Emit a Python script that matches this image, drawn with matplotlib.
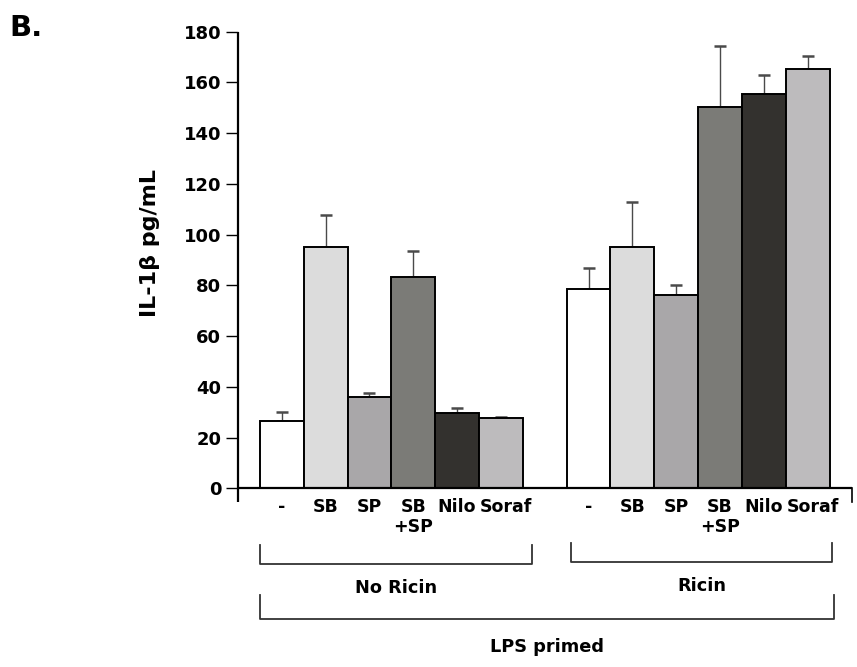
import numpy as np
import matplotlib
matplotlib.use('Agg')
from matplotlib import pyplot as plt
from matplotlib.transforms import blended_transform_factory, ScaledTranslation

plt.rcParams['font.family'] = ['DejaVu Sans']
plt.rcParams['font.weight'] = 'bold'

# data
treatments = ['-', 'SB', 'SP', 'SB\n+SP', 'Nilo', 'Soraf']
groups = ['No Ricin', 'Ricin']
no_ricin_mean = [26.6, 95.0, 36.0, 83.4, 29.8, 27.7]
no_ricin_err = [3.3, 12.6, 1.4, 10.3, 1.8, 0.5]
ricin_mean = [78.4, 95.1, 76.1, 150.2, 155.3, 165.2]
ricin_err = [8.6, 17.6, 3.9, 24.1, 7.5, 5.1]
yticks = [0, 20, 40, 60, 80, 100, 120, 140, 160, 180]

colors = ['#ffffff', '#dcdcdc', '#a9a7a9', '#7b7b77', '#33312e', '#bdbbbd']

W, H = 857, 667
fig = plt.figure(figsize=(W / 100, H / 100), dpi=100)
ax = fig.add_axes([238 / W, 1 - 488.3 / H, (851.5 - 238) / W, (488.3 - 31.7) / H])

x0 = np.arange(len(treatments))
x1 = x0 + len(treatments) + 1
for xs, m, e in [(x0, no_ricin_mean, no_ricin_err), (x1, ricin_mean, ricin_err)]:
    ax.errorbar(xs, m, yerr=[np.zeros(len(e)), e], fmt='none', ecolor='#4a4a4a',
                elinewidth=1.0, capsize=4.5, capthick=1.8, zorder=1)
    ax.bar(xs, m, width=1.0, color=colors, edgecolor='black', linewidth=1.4, zorder=2)

ax.set_xlim(-1, 13)
ax.set_ylim(0, 180)
for s in ax.spines.values():
    s.set_visible(False)

# axis lines (left one runs a bit below zero, bottom one ends with a small tick)
ext = 5.3
ax.plot([-1, -1], [-ext, 180], color='black', lw=1.6, clip_on=False, solid_capstyle='butt')
ax.plot([-1, 13], [0, 0], color='black', lw=1.6, clip_on=False, solid_capstyle='butt')
ax.plot([13, 13], [0, -ext], color='black', lw=1.2, clip_on=False)

ax.set_yticks(yticks)
ax.tick_params(axis='y', length=9, width=1.0, pad=3, labelsize=13)
ax.set_xticks(np.concatenate([x0, x1]))
ax.set_xticklabels(treatments * 2, fontsize=12.5, linespacing=1.15)
ax.tick_params(axis='x', length=0, pad=7)

# the Soraf labels sit a little right of their bars in the original
for lab in ax.get_xticklabels():
    if lab.get_text() == 'Soraf':
        lab.set_transform(lab.get_transform() + ScaledTranslation(5 / 100, 0, fig.dpi_scale_trans))

fig.text(150 / W, 1 - 243 / H, 'IL-1\u03b2 pg/mL', rotation=90, ha='center', va='center',
         fontsize=16, fontweight='bold')
fig.text(26 / W, 1 - 28 / H, 'B.', ha='center', va='center', fontsize=21, fontweight='bold')

# group brackets under the axis
tr = blended_transform_factory(ax.transData, fig.transFigure)


def bracket(xa, xb, ytop, ybot, label, ylab):
    fig.lines.append(plt.Line2D([xa, xa, xb, xb], [1 - ytop / H, 1 - ybot / H, 1 - ybot / H, 1 - ytop / H],
                                transform=tr, color='#333333', lw=1.3))
    fig.text((xa + xb) / 2, 1 - ylab / H, label, transform=tr, ha='center', va='center',
             fontsize=12.8, fontweight='bold')


bracket(-0.5, 5.72, 545, 564, groups[0], 588)
bracket(6.6, 12.55, 543, 562, groups[1], 586)
bracket(-0.5, 12.6, 595, 618.5, 'LPS primed', 647)

fig.savefig('out.png', dpi=100)
